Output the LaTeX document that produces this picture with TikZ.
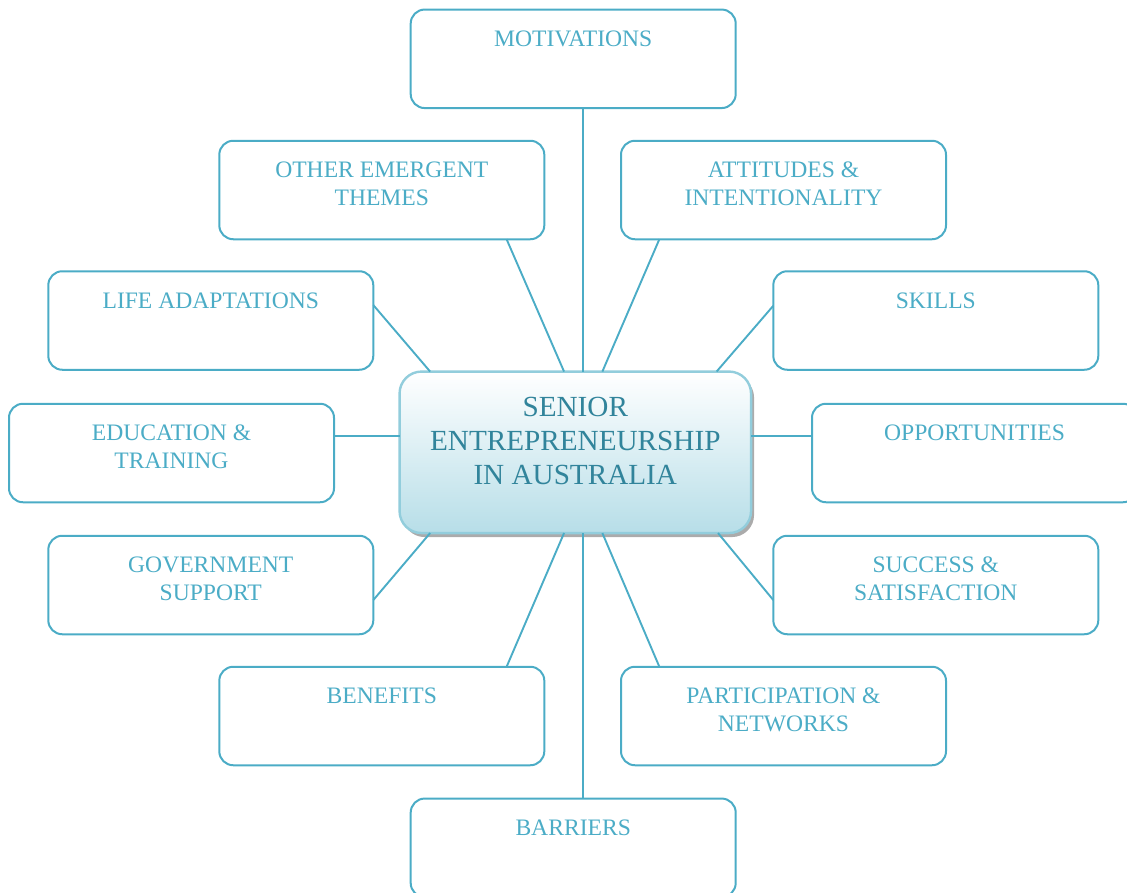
\documentclass[tikz,border=0pt]{standalone}
\usepackage{fontspec}
\setmainfont{Liberation Serif}
\usetikzlibrary{calc,shadows}
\definecolor{aqua}{HTML}{4BACC6}
\definecolor{aquadark}{HTML}{31849B}
\definecolor{aqualight}{HTML}{B7DEE8}
\definecolor{aquaedge}{HTML}{92CDDC}

\begin{document}
\begin{tikzpicture}[x=1pt,y=-1pt,
  theme/.style={draw=aqua,line width=2pt,rounded corners=14pt,outer sep=0pt,
    minimum width=325pt,minimum height=98.5pt,inner sep=0pt},
  themetext/.style={anchor=north,yshift=-21pt,inner sep=0pt,align=center,
    text=aqua,font=\fontsize{23.6}{28.3}\selectfont},
  hub/.style={draw=aquaedge,line width=2.4pt,rounded corners=22pt,outer sep=0pt,
    top color=white,bottom color=aqualight,minimum width=351.5pt,minimum height=161.5pt,
    drop shadow={shadow xshift=3pt,shadow yshift=-4pt,fill=black!55,opacity=.6}},
  hubtext/.style={anchor=north,yshift=-25pt,inner sep=0pt,align=center,
    text=aquadark,font=\fontsize{29.2}{34}\selectfont},
  link/.style={draw=aqua,line width=1.9pt}]
\clip (0,0) rectangle (1127,892);

% centre
\node[hub,label={[hubtext]north:SENIOR\\ENTREPRENEURSHIP\\IN AUSTRALIA}] (hub) at (575.3,452.3) {};

% themes
\node[theme,label={[themetext]north:MOTIVATIONS}] (mot) at (573.2,58.8) {};
\node[theme,label={[themetext]north:OTHER EMERGENT\\THEMES}] (other) at (381.8,190) {};
\node[theme,label={[themetext]north:ATTITUDES \&\\INTENTIONALITY}] (att) at (783.5,190) {};
\node[theme,label={[themetext]north:LIFE ADAPTATIONS}] (life) at (210.8,320.5) {};
\node[theme,label={[themetext]north:SKILLS}] (skills) at (935.8,320.5) {};
\node[theme,label={[themetext]north:EDUCATION \&\\TRAINING}] (edu) at (171.5,453) {};
\node[theme,label={[themetext]north:OPPORTUNITIES}] (opp) at (974.5,453) {};
\node[theme,label={[themetext]north:GOVERNMENT\\SUPPORT}] (gov) at (210.8,585) {};
\node[theme,label={[themetext]north:SUCCESS \&\\SATISFACTION}] (succ) at (935.8,585) {};
\node[theme,label={[themetext]north:BENEFITS}] (ben) at (381.8,716) {};
\node[theme,label={[themetext]north:PARTICIPATION \&\\NETWORKS}] (part) at (783.5,716) {};
\node[theme,label={[themetext]north:BARRIERS}] (barr) at (573.2,847.8) {};

% links
\coordinate (hm) at ($(hub.north west)!.523!(hub.north east)$);
\coordinate (hw) at ($(hub.north west)!.4!(hub.south west)$);
\draw[link] (hm) -- (hm |- mot.south);
\draw[link] (hm |- hub.south) -- (hm |- barr.north);
\draw[link] (hw) -- (hw -| edu.east);
\draw[link] (hw -| hub.east) -- (hw -| opp.west);
\draw[link] ($(hub.north west)!.468!(hub.north east)$) -- ($(other.south west)!.884!(other.south east)$);
\draw[link] ($(hub.north west)!.577!(hub.north east)$) -- ($(att.south west)!.118!(att.south east)$);
\draw[link] ($(hub.north west)!.087!(hub.north east)$) -- ($(life.north east)!.343!(life.south east)$);
\draw[link] ($(hub.north west)!.902!(hub.north east)$) -- ($(skills.north west)!.35!(skills.south west)$);
\draw[link] ($(hub.south west)!.087!(hub.south east)$) -- ($(gov.north east)!.653!(gov.south east)$);
\draw[link] ($(hub.south west)!.906!(hub.south east)$) -- ($(succ.north west)!.653!(succ.south west)$);
\draw[link] ($(hub.south west)!.468!(hub.south east)$) -- ($(ben.north west)!.884!(ben.north east)$);
\draw[link] ($(hub.south west)!.577!(hub.south east)$) -- ($(part.north west)!.118!(part.north east)$);
\end{tikzpicture}
\end{document}
